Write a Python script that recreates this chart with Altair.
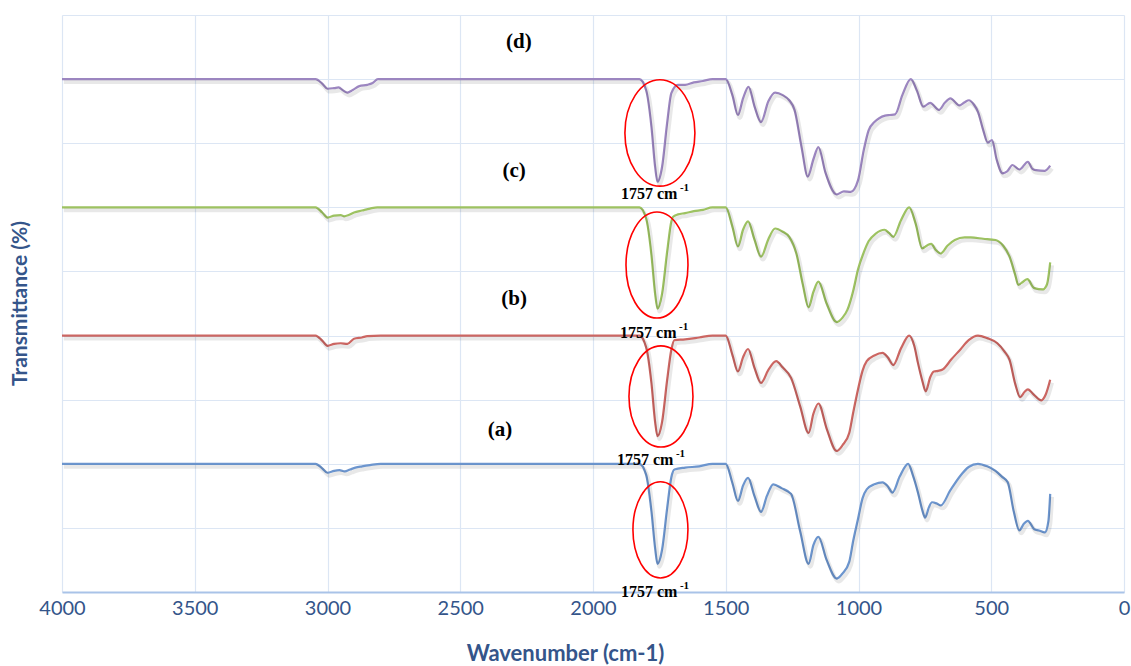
import altair as alt
import pandas as pd

# FTIR spectra, (wavenumber cm-1, offset transmittance) pairs
SPEC_A = [(4000, 20), (3100, 20), (3045, 20), (3020, 19.3), (3000, 18.6), (2975, 18.9), (2955, 19.0),
          (2935, 18.8), (2915, 19.1), (2895, 19.4), (2870, 19.6), (2840, 19.8), (2800, 20), (2000, 20),
          (1840, 20), (1825, 20), (1800, 18.3), (1780, 12.6), (1766, 6.8), (1757, 4.4), (1740, 6.6),
          (1721, 13.0), (1705, 17.9), (1693, 19.1), (1653, 19.4), (1600, 19.6), (1550, 20), (1500, 20),
          (1475, 17.0), (1454, 14.2), (1435, 16.6), (1416, 17.8), (1392, 15.0), (1367, 12.5), (1345, 15.0),
          (1321, 16.8), (1290, 16.2), (1254, 15.3), (1220, 9.5), (1188, 4.4), (1170, 7.3), (1151, 8.6),
          (1120, 5.0), (1082, 2.1), (1060, 2.9), (1035, 4.7), (1020, 8.0), (1002, 11.4), (985, 14.6),
          (969, 16.0), (940, 16.8), (909, 17.1), (890, 16.5), (872, 15.5), (845, 18.0), (813, 20),
          (795, 18.2), (776, 15.5), (760, 12.8), (749, 11.6), (735, 13.2), (723, 14.0), (705, 13.8),
          (690, 13.5), (655, 15.8), (617, 18.1), (585, 19.5), (550, 20), (515, 19.6), (484, 18.9),
          (460, 18.0), (438, 17.1), (415, 12.5), (394, 9.6), (378, 10.6), (362, 11.1), (338, 9.8),
          (320, 9.6), (298, 9.3), (285, 11.0), (278, 15.3)]

SPEC_B = [(4000, 40), (3100, 40), (3045, 40), (3020, 39.2), (3000, 38.4), (2975, 38.7), (2950, 38.8),
          (2925, 38.7), (2900, 39.5), (2870, 39.7), (2850, 39.9), (2800, 40), (2000, 40), (1840, 40),
          (1825, 40), (1800, 38.2), (1780, 32.6), (1766, 26.5), (1757, 24.3), (1740, 26.5), (1721, 33.0),
          (1705, 37.8), (1693, 39.3), (1653, 39.4), (1600, 39.7), (1550, 40), (1500, 40), (1475, 37.0),
          (1454, 34.4), (1435, 36.6), (1416, 37.9), (1392, 35.0), (1367, 32.6), (1340, 34.6), (1310, 36.0),
          (1285, 35.0), (1254, 33.4), (1220, 29.0), (1188, 24.8), (1170, 27.8), (1151, 29.4), (1120, 25.5),
          (1082, 22.0), (1060, 22.9), (1035, 24.8), (1020, 28.0), (1002, 31.6), (985, 34.5), (969, 36.0),
          (940, 36.9), (909, 37.3), (890, 36.6), (869, 35.4), (840, 38.0), (809, 40), (790, 38.4),
          (776, 35.7), (760, 33.0), (747, 31.3), (730, 33.5), (716, 34.4), (700, 34.5), (683, 34.7),
          (650, 36.3), (617, 37.8), (585, 39.3), (550, 40), (515, 39.6), (477, 38.8), (450, 37.5),
          (431, 36.2), (410, 32.5), (391, 30.4), (375, 31.2), (362, 31.6), (340, 30.8), (311, 29.9),
          (295, 30.8), (278, 33.1)]

SPEC_C = [(4000, 60), (3100, 60), (3045, 60), (3020, 59.2), (3000, 58.4), (2975, 58.7), (2950, 58.8),
          (2938, 58.6), (2920, 58.8), (2900, 59.2), (2870, 59.5), (2840, 59.8), (2812, 60), (2000, 60),
          (1840, 60), (1825, 60), (1800, 58.3), (1780, 52.6), (1766, 46.5), (1757, 44.2), (1740, 46.5),
          (1721, 53.0), (1705, 57.8), (1699, 58.5), (1680, 58.9), (1653, 59.1), (1620, 59.4), (1586, 59.6),
          (1550, 60), (1500, 60), (1475, 57.0), (1454, 53.9), (1435, 56.5), (1416, 57.8), (1392, 55.0),
          (1367, 52.3), (1340, 55.0), (1314, 56.7), (1285, 56.2), (1261, 55.4), (1234, 52.8), (1210, 48.0),
          (1188, 44.4), (1170, 46.8), (1151, 48.4), (1120, 45.0), (1082, 42.1), (1060, 42.8), (1042, 44.0),
          (1020, 47.0), (1002, 50.3), (980, 53.0), (962, 54.7), (935, 55.9), (902, 56.5), (885, 56.0),
          (869, 55.4), (840, 58.0), (809, 60), (785, 57.5), (760, 53.6), (740, 54.1), (726, 54.3),
          (710, 53.4), (690, 52.8), (665, 54.0), (637, 54.9), (600, 55.3), (577, 55.3), (530, 55.1),
          (484, 54.9), (455, 54.0), (431, 52.3), (410, 49.5), (398, 47.9), (380, 48.4), (364, 48.8),
          (338, 47.4), (305, 47.2), (290, 48.0), (278, 51.4)]

SPEC_D = [(4000, 80), (3100, 80), (3045, 80), (3020, 79.3), (3000, 78.5), (2975, 78.6), (2958, 78.7),
          (2940, 78.2), (2925, 77.9), (2905, 78.3), (2880, 78.9), (2850, 79.1), (2830, 79.4), (2810, 80),
          (2000, 80), (1840, 80), (1825, 80), (1800, 78.3), (1780, 72.6), (1766, 66.3), (1757, 64.0),
          (1740, 66.3), (1721, 73.1), (1705, 77.8), (1680, 79.1), (1653, 79.1), (1620, 79.5), (1586, 79.7),
          (1550, 80), (1500, 80), (1475, 77.5), (1454, 74.4), (1435, 77.0), (1414, 78.8), (1392, 75.8),
          (1367, 73.3), (1340, 76.5), (1314, 77.9), (1285, 77.5), (1261, 76.7), (1241, 75.2), (1215, 69.5),
          (1191, 64.8), (1170, 67.5), (1151, 69.4), (1125, 65.5), (1082, 62.0), (1055, 62.5), (1029, 62.4),
          (1002, 64.2), (980, 69.0), (962, 72.0), (940, 73.3), (922, 73.9), (900, 74.3), (882, 74.4),
          (862, 74.5), (835, 77.5), (803, 80), (780, 78.2), (756, 75.7), (730, 76.3), (697, 75.2),
          (675, 76.3), (654, 77.0), (620, 75.9), (600, 76.4), (584, 76.7), (565, 76.0), (550, 74.9),
          (530, 72.0), (513, 70.1), (497, 70.5), (480, 67.5), (457, 65.3), (440, 65.6), (420, 66.6),
          (394, 65.9), (362, 67.1), (345, 66.0), (331, 65.8), (298, 65.7), (278, 66.5)]

SERIES = ["(a)", "(b)", "(c)", "(d)"]
COLORS = ["#6C95CE", "#CC6662", "#9DC261", "#9C86C0"]

# series tags placed above each trace
TAG_WN = [2350, 2297, 2297, 2279]
TAG_T = [25.3, 45.7, 65.7, 85.8]

# circled C=O band and its label, one per trace
RING_WN = [1746, 1744, 1759, 1748]
RING_T = [9.7, 30.5, 51.0, 71.6]
RING_RX = [27.5, 32, 31, 35]
RING_ASPECT = [1.75, 1.58, 1.71, 1.52]
BAND_TEXT = "1757 cm"
BAND_SUP = "-1"
BAND_WN = [1895, 1910, 1898, 1895]
BAND_T = [-0.8, 19.8, 39.6, 61.3]

X_TICKS = list(range(0, 4001, 500))
Y_GRID = list(range(0, 91, 10))

AXIS_BLUE = "#34558A"
GRID = "#DCE6F4"

rows = []
for name, spec in zip(SERIES, [SPEC_A, SPEC_B, SPEC_C, SPEC_D]):
    for wn, t in spec:
        rows.append({"series": name, "wn": wn, "t": t})
spectra = pd.DataFrame(rows)

tags = pd.DataFrame({"series": SERIES, "wn": TAG_WN, "t": TAG_T})


def ellipse_path(a, k=0.5523):
    return (f"M1,0C1,{a*k:.3f} {k},{a} 0,{a}C{-k},{a} -1,{a*k:.3f} -1,0"
            f"C-1,{-a*k:.3f} {-k},{-a} 0,{-a}C{k},{-a} 1,{-a*k:.3f} 1,0Z")


rings = pd.DataFrame({
    "series": SERIES, "wn": RING_WN, "t": RING_T,
    "size": [(2 * r) ** 2 for r in RING_RX],
})
band = pd.DataFrame({"series": SERIES, "wn": BAND_WN, "t": BAND_T})

x_enc = alt.X("wn:Q",
              scale=alt.Scale(domain=[0, 4000], reverse=True, nice=False, zero=False),
              axis=alt.Axis(values=X_TICKS, format="d", title="Wavenumber (cm-1)",
                            grid=True, gridColor=GRID, gridWidth=1.2,
                            ticks=False, domainColor="#A9C3E8", domainWidth=1.8,
                            labelFont="Lato", labelFontSize=20, labelColor=AXIS_BLUE,
                            labelPadding=6, labelFlush=False,
                            titleFont="Lato", titleFontSize=22, titleFontWeight="bold",
                            titleColor=AXIS_BLUE, titleX=503, titleY=61,
                            titleAnchor="middle", titleAlign="center",
                            titleBaseline="middle"))
y_enc = alt.Y("t:Q",
              scale=alt.Scale(domain=[0, 90], nice=False, zero=False),
              axis=alt.Axis(values=Y_GRID, labels=False, ticks=False, domain=False,
                            grid=True, gridColor=GRID, gridWidth=1.2,
                            title="Transmittance (%)", titleFont="Lato", titleFontSize=21,
                            titleFontWeight="bold", titleColor=AXIS_BLUE,
                            titleAngle=-90, titleX=-42, titleY=288,
                            titleAlign="center", titleBaseline="middle"))

color_scale = alt.Scale(domain=SERIES, range=COLORS)

shadow = alt.Chart(spectra).transform_calculate(
    ws="datum.wn - 7", ts="datum.t - 0.45"
).mark_line(interpolate="monotone", strokeWidth=4, color="#000000", opacity=0.09).encode(
    x=alt.X("ws:Q", scale=alt.Scale(domain=[0, 4000], reverse=True, nice=False, zero=False)),
    y=alt.Y("ts:Q", scale=alt.Scale(domain=[0, 90], nice=False, zero=False)),
    detail="series:N",
    order="wn:Q",
)

lines = alt.Chart(spectra).mark_line(interpolate="monotone", strokeWidth=2.2).encode(
    x=x_enc,
    y=y_enc,
    color=alt.Color("series:N", scale=color_scale, legend=None),
    order=alt.Order("wn:Q", sort="descending"),
)

ring_marks = alt.Chart(rings).mark_point(filled=False, color="#FF0000", strokeWidth=1.6,
                                          opacity=1).encode(
    x="wn:Q",
    y="t:Q",
    size=alt.Size("size:Q", scale=None),
    shape=alt.Shape("series:N",
                    scale=alt.Scale(domain=SERIES, range=[ellipse_path(a) for a in RING_ASPECT]),
                    legend=None),
)

tag_text = alt.Chart(tags).mark_text(font="Liberation Serif", fontSize=21, fontWeight="bold",
                                     color="#000000", align="center", baseline="middle").encode(
    x="wn:Q", y="t:Q", text="series:N")

band_text = alt.Chart(band).mark_text(font="Liberation Serif", fontSize=16, fontWeight="bold",
                                      color="#000000", align="left", baseline="alphabetic",
                                      text=BAND_TEXT).encode(x="wn:Q", y="t:Q")

band_sup = alt.Chart(band).mark_text(font="Liberation Serif", fontSize=11, fontWeight="bold",
                                     color="#000000", align="left", baseline="alphabetic",
                                     dx=59, dy=-8, text=BAND_SUP).encode(x="wn:Q", y="t:Q")

chart = alt.layer(lines, shadow, ring_marks, tag_text, band_text, band_sup).resolve_scale(
    x="shared", y="shared"
).properties(
    width=1062,
    height=577,
    autosize=alt.AutoSizeParams(type="none"),
    padding={"left": 62, "top": 15, "right": 7, "bottom": 74},
    background="#FFFFFF",
).configure_view(strokeWidth=0)

chart.save("out.html", embed_options={"renderer": "svg", "actions": False})
